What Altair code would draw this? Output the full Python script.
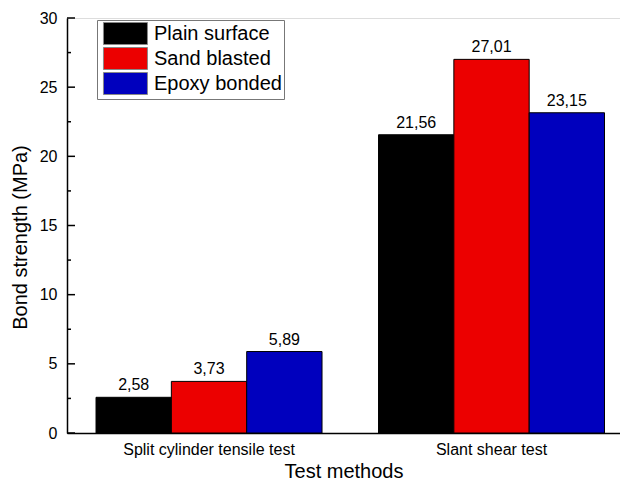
import altair as alt
import pandas as pd

methods = ["Split cylinder tensile test", "Slant shear test"]
treatments = ["Plain surface", "Sand blasted", "Epoxy bonded"]
plain = [2.58, 21.56]
sand = [3.73, 27.01]
epoxy = [5.89, 23.15]
colors = ["#000000", "#EC0000", "#0000BE"]
major_ticks = [0, 5, 10, 15, 20, 25, 30]
minor_ticks = [2.5, 7.5, 12.5, 17.5, 22.5, 27.5]

FONT = "Liberation Sans"

rows = []
for i, m in enumerate(methods):
    for t, vals in zip(treatments, [plain, sand, epoxy]):
        rows.append({"method": m, "treatment": t, "value": vals[i],
                     "label": f"{vals[i]:.2f}".replace(".", ",")})
df = pd.DataFrame(rows)

major_df = pd.DataFrame({"value": major_ticks})
minor_df = pd.DataFrame({"value": minor_ticks})

x_scale = alt.Scale(paddingInner=0.2, paddingOuter=0.0788, align=0.652)
x_axis = alt.Axis(title="Test methods", labelAngle=0, ticks=False,
                  domainColor="black", domainWidth=1.5,
                  labelFont=FONT, labelFontSize=16, labelColor="black",
                  labelPadding=8, titleFont=FONT, titleFontSize=20,
                  titleFontWeight="normal", titleColor="black",
                  titlePadding=4)
y_scale = alt.Scale(domain=[0, 30], nice=False)
y_axis = alt.Axis(title="Bond strength (MPa)", values=major_ticks,
                  ticks=False, grid=False, domainColor="black",
                  domainWidth=1.5, labelFont=FONT, labelFontSize=16,
                  labelColor="black", labelPadding=10, labelFlush=False,
                  titleFont=FONT, titleFontSize=20,
                  titleFontWeight="normal", titleColor="black",
                  titlePadding=9, titleY=219)

x_enc = alt.X("method:N", sort=methods, scale=x_scale, axis=x_axis)
xoff_enc = alt.XOffset("treatment:N", sort=treatments,
                       scale=alt.Scale(paddingInner=0, paddingOuter=0))
y_enc = alt.Y("value:Q", scale=y_scale, axis=y_axis)

bars = alt.Chart(df).mark_bar(stroke="black", strokeWidth=1).encode(
    x=x_enc,
    xOffset=xoff_enc,
    y=y_enc,
    color=alt.Color("treatment:N", sort=treatments,
                    scale=alt.Scale(domain=treatments, range=colors),
                    legend=alt.Legend(title=None, orient="none", legendX=30,
                                      legendY=2,
                                      symbolType="M-0.64,-1H3.36V1H-0.64Z",
                                      symbolSize=484, symbolStrokeColor="#888",
                                      symbolStrokeWidth=1, symbolOpacity=1,
                                      labelOffset=32, labelFont=FONT,
                                      labelFontSize=20, labelColor="black",
                                      rowPadding=-4, padding=2,
                                      strokeColor="#777", fillColor="white")),
)

labels = alt.Chart(df).mark_text(baseline="bottom", dy=-4, fontSize=16,
                                 font=FONT, color="black").encode(
    x=x_enc,
    xOffset=xoff_enc,
    y=y_enc,
    text="label:N",
)

major = alt.Chart(major_df).mark_rule(color="black", strokeWidth=1.5).encode(
    y=y_enc,
    x=alt.value(0), x2=alt.value(8),
)
minor = alt.Chart(minor_df).mark_rule(color="black", strokeWidth=1.5).encode(
    y=y_enc,
    x=alt.value(0), x2=alt.value(4),
)

chart = alt.layer(bars, labels, major, minor).properties(
    width=553, height=415,
    autosize=alt.AutoSizeParams(type="none"),
    padding={"left": 59, "top": 10, "right": 0, "bottom": 48},
).configure_view(stroke=None).configure(background="white")

chart.save("out.html", embed_options={"renderer": "svg", "actions": False})
